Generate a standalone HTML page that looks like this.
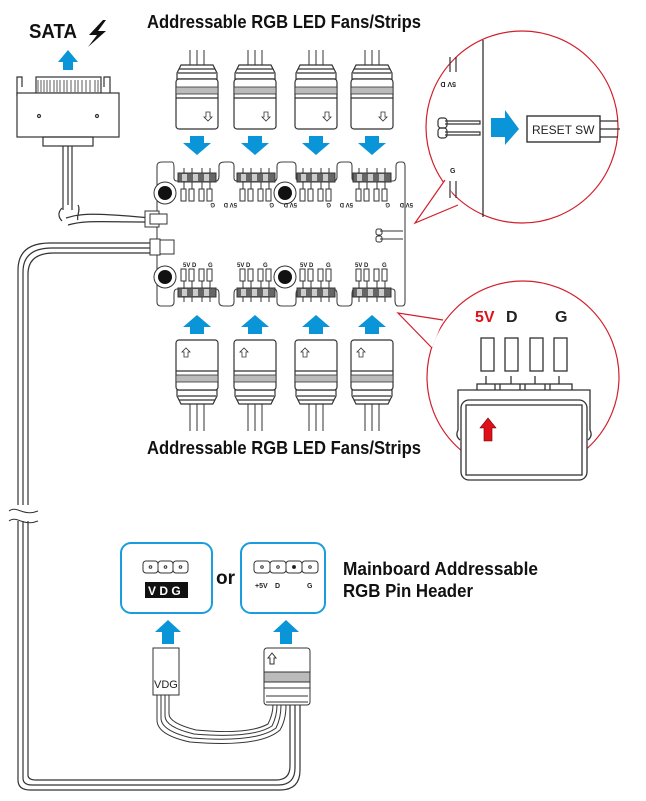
<!DOCTYPE html>
<html><head><meta charset="utf-8"><style>
body{margin:0;background:#fff}
svg{display:block}
text{font-family:"Liberation Sans",sans-serif}
.b{font-weight:bold}
</style></head><body>
<svg width="646" height="801" viewBox="0 0 646 801" xmlns="http://www.w3.org/2000/svg">
<defs>
<g id="fan" fill="none" stroke="#333" stroke-width="1.2">
 <path d="M15,-15V2M22,-15V2M29,-15V2" stroke-width="1"/>
 <path d="M6,0H38L42,8V14H2V8Z" fill="#fff"/>
 <path d="M4,4H40M3,8H41"/>
 <rect x="1" y="14" width="42" height="50" rx="3" fill="#fff"/>
 <rect x="1" y="22" width="42" height="7" fill="#bbb" stroke-width="0.8"/>
 <path d="M1,33H43"/>
 <path d="M31,47h4v5h2l-4,4l-4,-4h2z" stroke-width="0.8"/>
</g>
<g id="downarr"><path d="M-7,0H7V7H14L0,19L-14,7H-7Z" fill="#0a95d8"/></g>
<g id="hdr" stroke="#333" stroke-width="1" fill="#fff">
 <path d="M-13,-8V13M-5,-8V13M5,-8V13M13,-8V13"/>
 <rect x="-19" y="-3" width="38" height="9" fill="#666"/>
 <rect x="-15" y="-2" width="5" height="7" fill="#ccc" stroke="none"/>
 <rect x="-4" y="-2" width="5" height="7" fill="#ccc" stroke="none"/>
 <rect x="7" y="-2" width="5" height="7" fill="#ccc" stroke="none"/>
 <rect x="-16" y="13" width="5" height="12"/><rect x="-8" y="13" width="5" height="12"/>
 <rect x="2" y="13" width="5" height="12"/><rect x="10" y="13" width="5" height="12"/>
</g>
<g id="hole"><circle r="11" fill="#fff" stroke="#333"/><circle r="7" fill="#111"/></g>
</defs>

<!-- SATA -->
<text x="29" y="38" class="b" font-size="20" fill="#111" textLength="48" lengthAdjust="spacingAndGlyphs">SATA</text>
<path d="M103,20 L89,35 H97 L88,47 L106,31 H98 L106,20Z" fill="#111"/>
<path d="M63,70V62H58L68,50L78,62H73V70Z" fill="#0a95d8"/>
<g fill="none" stroke="#333" stroke-width="1.2">
 <path d="M17,96V77H22V87M104,87V77H110V96" />
 <rect x="36" y="77" width="65" height="16" fill="#fff"/>
 <path d="M38,80V92M41,80V92M44,80V92M47,80V92M50,80V92M54,80V92M57,80V92M60,80V92M64,80V92M67,80V92M71,80V92M75,80V92M78,80V92M82,80V92M86,80V92M90,80V92M95,80V92M98,80V92" stroke-width="0.8"/>
 <rect x="17" y="93" width="102" height="44" fill="#fff"/>
 <circle cx="39" cy="116" r="1.5"/><circle cx="97" cy="116" r="1.5"/>
 <rect x="43" y="137" width="50" height="9"/>
 <path d="M63,146V210M68,146V205M72,146V210"/>
 <path d="M62,208 c-5,5 -3,10 0,13M78,205 c3,5 -2,12 0,15"/>
 <path d="M66,218 C80,214 90,212 150,218M68,225 C85,220 100,222 148,222"/>
 <path d="M150,243 H50 Q18,243 18,270 V780 Q18,790 30,790 H280 Q300,790 300,770 V705"/>
 <path d="M150,248 H52 Q23,248 23,272 V778 Q23,785 32,785 H278 Q295,785 295,768 V705"/>
 <path d="M150,253 H54 Q28,253 28,274 V775 Q28,780 36,780 H276 Q290,780 290,766 V705"/>
</g>
<rect x="8" y="505" width="30" height="16" fill="#fff"/>
<path d="M9,511 c8,-6 14,6 29,0M9,521 c8,-6 14,6 29,0" fill="none" stroke="#333"/>

<text x="147" y="28" class="b" font-size="18" fill="#111" textLength="274" lengthAdjust="spacingAndGlyphs">Addressable RGB LED Fans/Strips</text>
<text x="147" y="454" class="b" font-size="18" fill="#111" textLength="274" lengthAdjust="spacingAndGlyphs">Addressable RGB LED Fans/Strips</text>

<use href="#fan" x="175" y="65"/><use href="#fan" x="233" y="65"/>
<use href="#fan" x="294" y="65"/><use href="#fan" x="350" y="65"/>
<use href="#downarr" x="197" y="136"/><use href="#downarr" x="255" y="136"/>
<use href="#downarr" x="316" y="136"/><use href="#downarr" x="372" y="136"/>

<path d="M162,162 H172 Q174,162 174,168 V178 Q174,181 177,181 H216 Q219,181 219,175 V166 Q219,162 225,162 H230 Q234,162 234,166 V178 Q234,181 237,181 H274 Q277,181 277,177 V166 Q277,162 282,162 H292 Q296,162 296,166 V178 Q296,181 300,181 H333 Q337,181 337,177 V166 Q337,162 342,162 H349 Q352,162 352,166 V178 Q352,181 355,181 H393 Q396,181 396,177 V166 Q396,162 400,162 H402 Q405,162 405,166 V302 Q405,306 402,306 H398 Q395,306 395,300 V292 Q395,289 392,289 H355 Q352,289 352,294 V302 Q352,306 348,306 H341 Q337,306 337,302 V294 Q337,289 333,289 H300 Q296,289 296,294 V302 Q296,306 292,306 H282 Q277,306 277,302 V294 Q277,289 274,289 H237 Q234,289 234,294 V302 Q234,306 230,306 H224 Q219,306 219,302 V294 Q219,289 216,289 H177 Q174,289 174,294 V302 Q174,306 170,306 H161 Q157,306 157,302 V166 Q157,162 162,162Z" fill="#fff" stroke="#444" stroke-width="1.1"/>
<use href="#hdr" x="197" y="176"/><use href="#hdr" x="256" y="176"/>
<use href="#hdr" x="316" y="176"/><use href="#hdr" x="372" y="176"/>
<g transform="translate(0,470) scale(1,-1)">
<use href="#hdr" x="197" y="176"/><use href="#hdr" x="256" y="176"/>
<use href="#hdr" x="316" y="176"/><use href="#hdr" x="372" y="176"/>
</g>
<use href="#hole" x="165" y="193"/><use href="#hole" x="285" y="193"/>
<use href="#hole" x="165" y="277"/><use href="#hole" x="285" y="277"/>
<g font-size="6" class="b" fill="#222">
 <text x="183" y="267">5V D</text><text x="208" y="267">G</text>
 <text x="237" y="267">5V D</text><text x="263" y="267">G</text>
 <text x="300" y="267">5V D</text><text x="326" y="267">G</text>
 <text x="355" y="267">5V D</text><text x="382" y="267">G</text>
 <g transform="rotate(180 290 206)">
 <text x="167" y="209">5V D</text><text x="190" y="209">G</text>
 <text x="227" y="209">5V D</text><text x="249" y="209">G</text>
 <text x="283" y="209">5V D</text><text x="306" y="209">G</text>
 <text x="343" y="209">5V D</text><text x="365" y="209">G</text>
 </g>
</g>
<g fill="#fff" stroke="#333" stroke-width="1">
 <rect x="145" y="211" width="14" height="16"/><rect x="150" y="214" width="17" height="10"/>
 <rect x="150" y="239" width="10" height="16"/><rect x="160" y="240" width="14" height="14"/>
 <rect x="376" y="229" width="6" height="6" rx="2"/><rect x="376" y="236" width="6" height="6" rx="2"/>
 <path d="M380,231H403M380,239H403"/>
</g>
<use href="#downarr" transform="translate(197,334) scale(1,-1)"/><use href="#downarr" transform="translate(255,334) scale(1,-1)"/>
<use href="#downarr" transform="translate(316,334) scale(1,-1)"/><use href="#downarr" transform="translate(372,334) scale(1,-1)"/>
<use href="#fan" transform="translate(219,404) scale(-1,-1)"/>
<use href="#fan" transform="translate(277,404) scale(-1,-1)"/>
<use href="#fan" transform="translate(338,404) scale(-1,-1)"/>
<use href="#fan" transform="translate(394,404) scale(-1,-1)"/>
<path d="M190,418V431M197,418V431M204,418V431M248,418V431M255,418V431M262,418V431M309,418V431M316,418V431M323,418V431M365,418V431M372,418V431M379,418V431" stroke="#333" stroke-width="1"/>

<g>
 <circle cx="522" cy="127" r="96" fill="#fff" stroke="#d21f2b" stroke-width="1.2"/>
 <path d="M445,180 L415,223 L458,205" fill="#fff" stroke="#d21f2b" stroke-width="1.2"/>
 <path d="M483,40 V217" stroke="#222" stroke-width="1.2"/>
 <g fill="none" stroke="#333" stroke-width="1.2">
  <rect x="438" y="118" width="9" height="10" rx="3"/><rect x="438" y="128" width="9" height="10" rx="3"/>
  <path d="M445,121H480V124H445M445,132H480V135H445"/>
  <path d="M450,57V72M456,57V72M450,181V198M456,181V198"/>
  <rect x="527" y="116" width="73" height="26" stroke-width="1.4"/>
  <path d="M600,121H618M600,129H620M600,137H618"/>
 </g>
 <text x="440" y="88" font-size="7" class="b" fill="#222" transform="rotate(180 448 85)">5V D</text>
 <text x="450" y="173" font-size="7" class="b" fill="#222">G</text>
 <path d="M491,118H505V110L519,129L505,145V137H491Z" fill="#0a95d8"/>
 <text x="532" y="134" font-size="12" fill="#222">RESET SW</text>
</g>
<g>
 <circle cx="523" cy="377" r="96" fill="#fff" stroke="#d21f2b" stroke-width="1.2"/>
 <path d="M443,320 L398,313 L432,348" fill="#fff" stroke="#d21f2b" stroke-width="1.2"/>
 <g fill="#fff" stroke="#333" stroke-width="1.3">
  <path d="M486,386V376M511,386V376M535,386V376M559,386V376"/>
  <rect x="481" y="338" width="13" height="33"/><rect x="505" y="338" width="13" height="33"/>
  <rect x="530" y="338" width="13" height="33"/><rect x="554" y="338" width="13" height="33"/>
  <rect x="477" y="384" width="95" height="16"/>
  <path d="M495,384V400M500,384V400M520,384V400M525,384V400M545,384V400M550,384V400"/>
  <path d="M458,400V390H590V400M458,400V430Q455,436 460,440M590,400V430Q593,436 588,440"/>
  <rect x="461" y="400" width="126" height="80" rx="8"/>
  <rect x="466" y="405" width="116" height="70"/>
 </g>
 <path d="M484,441V428H480L488,418L496,428H492V441Z" fill="#e0101b" stroke="#600" stroke-width="0.6"/>
 <text x="475" y="322" font-size="16" class="b" fill="#e0101b">5V</text>
 <text x="506" y="322" font-size="16" class="b" fill="#222">D</text>
 <text x="555" y="322" font-size="16" class="b" fill="#222">G</text>
</g>

<rect x="121" y="543" width="91" height="70" rx="10" fill="#fff" stroke="#1a9de0" stroke-width="2"/>
<g fill="#fff" stroke="#333" stroke-width="1">
 <rect x="143" y="561" width="15" height="12" rx="3"/><rect x="158" y="561" width="15" height="12" rx="3"/><rect x="173" y="561" width="15" height="12" rx="3"/>
 <circle cx="150.5" cy="567" r="1.3"/><circle cx="165.5" cy="567" r="1.3"/><circle cx="180.5" cy="567" r="1.3"/>
</g>
<rect x="145" y="582" width="43" height="16" fill="#111"/>
<text x="148" y="595" font-size="12" class="b" fill="#fff">V D G</text>
<text x="216" y="584" font-size="19" class="b" fill="#111">or</text>
<rect x="241" y="543" width="84" height="70" rx="10" fill="#fff" stroke="#1a9de0" stroke-width="2"/>
<g fill="#fff" stroke="#333" stroke-width="1">
 <rect x="254" y="561" width="16" height="12" rx="3"/><rect x="270" y="561" width="16" height="12" rx="3"/><rect x="286" y="561" width="16" height="12" rx="3"/><rect x="302" y="561" width="16" height="12" rx="3"/>
 <circle cx="262" cy="567" r="1.3"/><circle cx="278" cy="567" r="1.3"/><circle cx="294" cy="567" r="1.5" fill="#111"/><circle cx="310" cy="567" r="1.3"/>
</g>
<text x="255" y="588" font-size="7" class="b" fill="#222">+5V</text>
<text x="275" y="588" font-size="7" class="b" fill="#222">D</text>
<text x="307" y="588" font-size="7" class="b" fill="#222">G</text>
<text x="343" y="575" font-size="18" class="b" fill="#111" textLength="195" lengthAdjust="spacingAndGlyphs">Mainboard Addressable</text>
<text x="343" y="597" font-size="18" class="b" fill="#111" textLength="130" lengthAdjust="spacingAndGlyphs">RGB Pin Header</text>

<path d="M162,644V632H155L168,620L181,632H174V644Z" fill="#0a95d8"/>
<path d="M280,644V632H273L286,620L299,632H292V644Z" fill="#0a95d8"/>

<g fill="none" stroke="#333" stroke-width="1">
 <path d="M157,695 V720 Q157,735 190,742 Q260,748 280,730 Q286,720 286,705"/>
 <path d="M161,695 V718 Q161,731 192,738 Q256,743 276,728 Q281,718 281,705"/>
 <path d="M165,695 V716 Q165,727 194,734 Q252,739 272,726 Q277,716 277,705"/>
 <path d="M169,695 V714 Q169,723 196,730 Q248,735 268,724 Q273,714 273,705"/>
 <rect x="153" y="648" width="26" height="47" fill="#fff"/>
 <rect x="264" y="648" width="46" height="57" rx="3" fill="#fff"/>
 <rect x="264" y="672" width="46" height="10" fill="#bbb"/>
 <path d="M264,688H310M266,696H308M266,702H308"/>
 <path d="M270,664V658H268L272,653L276,658H274V664Z"/>
</g>
<text x="154" y="688" font-size="11" fill="#222">VDG</text>
</svg>
</body></html>
